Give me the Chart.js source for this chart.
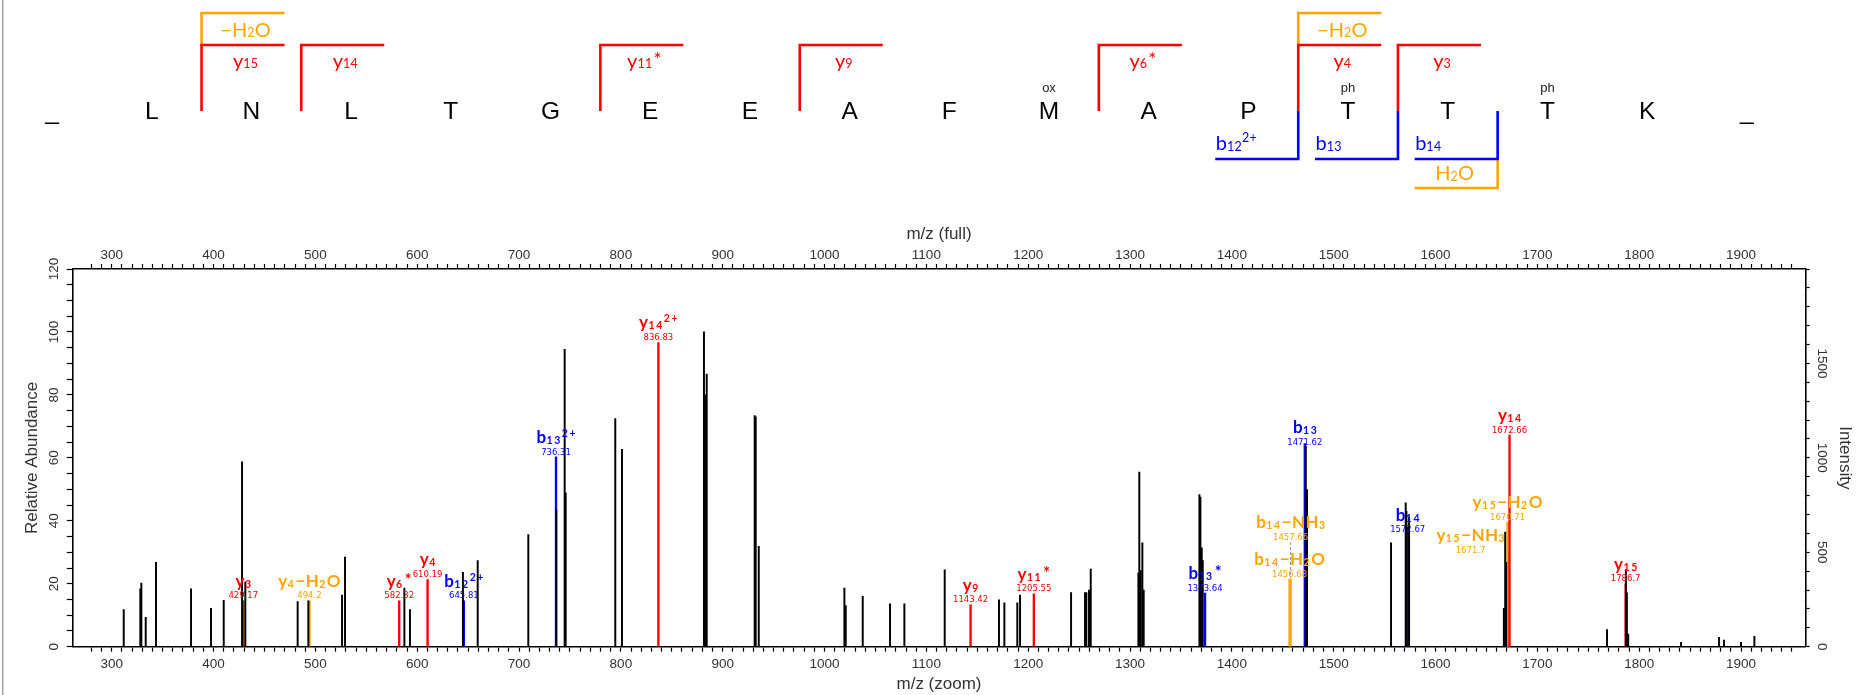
<!DOCTYPE html>
<html>
<head>
<meta charset="utf-8">
<style>
html,body{margin:0;padding:0;background:#fff;}
#wrap{position:relative;width:1856px;height:695px;overflow:hidden;}
canvas{display:block;}
</style>
<script src="https://cdn.jsdelivr.net/npm/chart.js@4/dist/chart.umd.min.js"></script>
</head>
<body>
<div id="wrap"><canvas id="c" width="1856" height="695"></canvas></div>
<script>
// ---------------- data ----------------
const residues = ['L','N','L','T','G','E','E','A','F','M','A','P','T','T','T','K'];
const modPositions = [10, 13, 15];
const modNames = ['ox', 'ph', 'ph'];

const yFragN = [15, 14, 11, 9, 6, 4, 3];
const yFragLabels = ['y_{15}', 'y_{14}', 'y_{11}^{*}', 'y_{9}', 'y_{6}^{*}', 'y_{4}', 'y_{3}'];
const yLossN = [15, 4];
const yLossLabels = ['−H_{2}O', '−H_{2}O'];
const bFragN = [12, 13, 14];
const bFragLabels = ['b_{12}^{2+}', 'b_{13}', 'b_{14}'];
const bLossN = [14];
const bLossLabels = ['H_{2}O'];

// unannotated peaks (m/z, relative abundance %)
const peakMz = [311.8,328.1,329.1,333.4,343.5,377.9,397.5,410.0,428.0,431.2,482.6,493.1,526.2,529.1,
  587.4,592.9,644.9,659.4,709.1,736.6,744.8,745.8,794.5,801.1,
  881.6,882.6,883.5,884.3,931.4,932.4,935.4,1019.5,1020.8,1037.5,1064.3,1078.4,
  1118.0,1171.3,1176.6,1189.3,1192.0,1242.1,1255.8,1257.1,1259.7,1261.4,
  1308.2,1309.1,1310.5,1312.1,1313.4,1368.1,1369.1,1370.4,1371.4,
  1472.6,1473.8,1556.3,1570.7,1571.4,1574.0,1667.1,1668.4,1669.4,
  1768.4,1786.9,1787.9,1789.2,1841.1,1878.4,1883.3,1900.0,1913.1];
const peakRel = [11.8,18.4,20.2,9.3,26.8,18.4,12.2,14.7,58.7,20.5,14.3,14.6,16.4,28.5,
  18.6,11.8,23.6,27.4,35.6,43.5,94.5,48.9,72.5,62.7,
  100,79.7,80,86.6,73.4,73.0,31.9,18.6,13.1,16.0,13.6,13.6,
  24.4,14.9,13.9,13.9,16.4,17.2,17.2,17.2,18.0,24.7,
  23.4,55.5,24.2,33.0,18.0,48.3,47.5,31.4,27.4,
  63.7,49.9,33.0,45.7,43.0,41.2,12.2,36.4,26.8,
  5.4,24.5,17.1,4.0,1.4,3.0,2.1,1.4,3.3];

// annotated fragment ions
const ionNames = ['y_{3}','y_{4}−H_{2}O','y_{6}^{*}','y_{4}','b_{12}^{2+}','b_{13}^{2+}','y_{14}^{2+}','y_{9}','y_{11}^{*}','b_{13}^{*}','b_{14}−H_{2}O','b_{14}−NH_{3}','b_{13}','b_{14}','y_{15}−H_{2}O','y_{15}−NH_{3}','y_{14}','y_{15}'];
const ionMz = [429.17,494.2,582.32,610.19,645.81,736.31,836.83,1143.42,1205.55,1373.64,1456.68,1457.66,1471.62,1572.67,1670.71,1671.7,1672.66,1786.7];
const ionRel = [14.6,14.6,14.6,21.3,14.6,60.3,96.6,13.3,16.8,17.0,21.5,21.5,64.5,38.0,39.6,29.0,67.2,20.0];
const ionMassText = ['429.17','494.2','582.32','610.19','645.81','736.31','836.83','1143.42','1205.55','1373.64','1456.68','1457.66','1471.62','1572.67','1670.71','1671.7','1672.66','1786.7'];
const ionKind = ['y','loss','y','y','b','b','y','y','y','b','loss','loss','b','b','loss','loss','y','y'];

const xMin = 261.3, xMax = 1963.5;
const relMax = 120;
const intensityMax = 2000;
const leftTickLabels = [0, 20, 40, 60, 80, 100, 120];
const rightTickLabels = [0, 500, 1000, 1500];

// ---------------- style ----------------
const COLORS = { y: '#ff0000', b: '#0000ff', loss: '#ffa500' };
const labelNudge = { 11: {dy: -36.6, leader: true}, 12: {dy: 3.4}, 13: {dy: 7.7}, 15: {dx: -38} };
const SANS = '"Liberation Sans", Arial, sans-serif';
const HUM = 'Lato, "Open Sans", sans-serif';

function parseRich(s) {
  const out = []; let i = 0;
  const isMark = k => (s[k] === '_' || s[k] === '^') && s[k + 1] === '{';
  while (i < s.length) {
    if (isMark(i)) {
      const j = s.indexOf('}', i);
      out.push({t: s.slice(i + 2, j), m: s[i] === '_' ? 1 : 2});
      i = j + 1;
    } else {
      let j = i; while (j < s.length && !isMark(j)) j++;
      out.push({t: s.slice(i, j), m: 0}); i = j;
    }
  }
  return out;
}
function drawRich(ctx, text, x, baseline, st, align) {
  const segs = parseRich(text);
  const items = []; let w = 0; let lastSp = 0;
  segs.forEach(seg => {
    const star = seg.m === 2 && seg.t === '*';
    const size = star ? st.size * 0.95 : (seg.m ? st.sub : st.size);
    ctx.font = `${st.weight} ${size}px ${st.family}`;
    const sp = seg.m ? st.subSp : st.sp;
    for (const ch of seg.t) {
      const cw = ctx.measureText(ch).width;
      items.push({ch, size, m: seg.m, star, x: w + (star ? 1 : 0)});
      w += cw + sp + (star ? 1 : 0); lastSp = sp;
    }
  });
  w -= lastSp;
  let x0 = align === 'left' ? x : align === 'right' ? x - w : x - w / 2;
  ctx.textAlign = 'left'; ctx.textBaseline = 'alphabetic'; ctx.fillStyle = st.color;
  items.forEach(it => {
    ctx.font = `${st.weight} ${it.size}px ${st.family}`;
    const by = it.star ? baseline - st.size * 0.06 : it.m === 1 ? baseline + st.subDy : it.m === 2 ? baseline - st.supDy : baseline;
    ctx.fillText(it.ch, x0 + it.x, by);
  });
}

// sequence / fragment map drawn above the plot
const sequencePlugin = {
  id: 'sequenceMap',
  afterDraw(chart) {
    const ctx = chart.ctx;
    const x0 = 52, dx = 99.7;
    const seqX = i => x0 + dx * i;
    ctx.save();
    // page border line
    ctx.strokeStyle = '#a0a0a0'; ctx.lineWidth = 1.5;
    ctx.beginPath(); ctx.moveTo(2.7, 0); ctx.lineTo(2.7, 695); ctx.stroke();
    // letters
    ctx.fillStyle = '#000'; ctx.textAlign = 'center'; ctx.textBaseline = 'alphabetic';
    ctx.font = `24.5px ${SANS}`;
    const letters = ['_'].concat(residues, ['_']);
    letters.forEach((ch, i) => ctx.fillText(ch, seqX(i), 119));
    ctx.font = `13px ${SANS}`; ctx.fillStyle = '#222';
    modPositions.forEach((p, k) => ctx.fillText(modNames[k], seqX(p), 91.5));
    const n = residues.length;
    const L = 83;
    ctx.lineWidth = 2.6; ctx.lineJoin = 'miter'; ctx.lineCap = 'butt';
    const lab = color => ({family: HUM, weight: 'normal', size: 20, sub: 12.5, subDy: 0.5, supDy: 8, sp: 0, subSp: 0.3, color});
    // y ions
    yLossN.forEach((f, k) => {
      const cx = seqX(n - f + 0.5);
      ctx.strokeStyle = COLORS.loss;
      ctx.beginPath(); ctx.moveTo(cx, 46); ctx.lineTo(cx, 13); ctx.lineTo(cx + L, 13); ctx.stroke();
      drawRich(ctx, yLossLabels[k], cx + 44, 36.5, lab(COLORS.loss), 'center');
    });
    yFragN.forEach((f, k) => {
      const cx = seqX(n - f + 0.5);
      ctx.strokeStyle = COLORS.y;
      ctx.beginPath(); ctx.moveTo(cx, 111); ctx.lineTo(cx, 45); ctx.lineTo(cx + L, 45); ctx.stroke();
      drawRich(ctx, yFragLabels[k], cx + 44, 67.5, lab(COLORS.y), 'center');
    });
    // b ions
    bLossN.forEach((f, k) => {
      const cx = seqX(f + 0.5);
      ctx.strokeStyle = COLORS.loss;
      ctx.beginPath(); ctx.moveTo(cx, 158); ctx.lineTo(cx, 188); ctx.lineTo(cx - L, 188); ctx.stroke();
      drawRich(ctx, bLossLabels[k], cx - 43, 180, lab(COLORS.loss), 'center');
    });
    bFragN.forEach((f, k) => {
      const cx = seqX(f + 0.5);
      ctx.strokeStyle = COLORS.b;
      ctx.beginPath(); ctx.moveTo(cx, 111); ctx.lineTo(cx, 159); ctx.lineTo(cx - L, 159); ctx.stroke();
      drawRich(ctx, bFragLabels[k], cx - 82.5, 150, lab(COLORS.b), 'left');
    });
    ctx.restore();
  }
};

// rotated y tick labels + peak annotations
const annotationPlugin = {
  id: 'peakLabels',
  afterDraw(chart) {
    const ctx = chart.ctx;
    const {x, y, y2} = chart.scales;
    const area = chart.chartArea;
    ctx.save();
    ctx.fillStyle = '#333'; ctx.font = `13.5px ${SANS}`;
    ctx.textAlign = 'center'; ctx.textBaseline = 'middle';
    leftTickLabels.forEach(v => {
      ctx.save(); ctx.translate(area.left - 18.5, y.getPixelForValue(v)); ctx.rotate(-Math.PI / 2);
      ctx.fillText(String(v), 0, 0); ctx.restore();
    });
    rightTickLabels.forEach(v => {
      ctx.save(); ctx.translate(area.right + 16.5, y2.getPixelForValue(v)); ctx.rotate(Math.PI / 2);
      ctx.fillText(String(v), 0, 0); ctx.restore();
    });
    ionMz.forEach((mz, i) => {
      const nd = labelNudge[i] || {};
      const px = x.getPixelForValue(mz) + (nd.dx || 0);
      const top = y.getPixelForValue(ionRel[i]);
      const color = COLORS[ionKind[i]];
      const massBase = top - 2.4 + (nd.dy || 0);
      const labBase = massBase - 11.8;
      drawRich(ctx, ionNames[i], px, labBase,
        {family: HUM, weight: 'bold', size: 17, sub: 10.5, subDy: 1, supDy: 6, sp: 0.4, subSp: 1.6, color}, 'center');
      ctx.font = `8.5px "DejaVu Sans", Verdana, sans-serif`;
      ctx.fillStyle = color; ctx.textAlign = 'center'; ctx.textBaseline = 'alphabetic';
      ctx.fillText(ionMassText[i], px, massBase);
      if (nd.leader) {
        ctx.save();
        ctx.strokeStyle = '#909090'; ctx.lineWidth = 1; ctx.setLineDash([3, 2]);
        ctx.beginPath(); ctx.moveTo(x.getPixelForValue(mz), massBase + 2); ctx.lineTo(x.getPixelForValue(mz), top - 1); ctx.stroke();
        ctx.restore();
      }
    });
    ctx.restore();
  }
};

const tickFont = {family: SANS, size: 13.5};
const titleFont = {family: SANS, size: 17};
const gridOpts = len => ({drawOnChartArea: false, drawTicks: true, tickLength: len, tickColor: '#000', tickWidth: 1.2, color: '#000'});
const borderOpts = {display: true, color: '#000', width: 1.6};
const keepMultiples = step => s => { s.ticks = s.ticks.filter(t => Math.abs(t.value - Math.round(t.value / step) * step) < 1e-6); };

const datasets = [{
  label: 'peaks',
  data: peakMz.map((m, i) => ({x: m, y: peakRel[i]})),
  backgroundColor: '#000', barThickness: 1.3, order: 0
}].concat(['y', 'loss', 'b'].map(kind => ({
  label: kind,
  data: ionMz.map((m, i) => ({x: m, y: ionRel[i], k: ionKind[i]})).filter(d => d.k === kind),
  backgroundColor: COLORS[kind], barThickness: 1.7, order: 1
})));

new Chart(document.getElementById('c'), {
  type: 'bar',
  data: {datasets},
  options: {
    responsive: false, animation: false, devicePixelRatio: 1,
    layout: {padding: {top: 222, left: 0, right: 0, bottom: 0}},
    datasets: {bar: {grouped: false, borderWidth: 0}},
    plugins: {legend: {display: false}, tooltip: {enabled: false}},
    scales: {
      x: {
        type: 'linear', position: 'bottom', min: xMin, max: xMax, offset: false,
        grid: Object.assign(gridOpts(5), {offset: false}), border: borderOpts,
        ticks: {stepSize: 10, autoSkip: false, maxRotation: 0, minRotation: 0, padding: 4, font: tickFont, color: '#333',
          callback: v => (Math.abs(v % 100) < 1e-6 ? String(Math.round(v)) : '')},
        title: {display: true, text: 'm/z (zoom)', font: titleFont, color: '#333', padding: {top: 0, bottom: 0.8}},
        afterBuildTicks: keepMultiples(10),
        afterFit: s => { s.height = 48.3; }
      },
      x2: {
        type: 'linear', axis: 'x', position: 'top', min: xMin, max: xMax, offset: false,
        grid: Object.assign(gridOpts(5), {offset: false}), border: borderOpts,
        ticks: {stepSize: 10, autoSkip: false, maxRotation: 0, minRotation: 0, padding: 1, font: tickFont, color: '#333',
          callback: v => (Math.abs(v % 100) < 1e-6 ? String(Math.round(v)) : '')},
        title: {display: true, text: 'm/z (full)', font: titleFont, color: '#333', padding: {top: 1.8, bottom: 0}},
        afterBuildTicks: keepMultiples(10),
        afterFit: s => { s.height = 47; }
      },
      y: {
        type: 'linear', position: 'left', min: 0, max: relMax,
        grid: gridOpts(5.5), border: borderOpts,
        ticks: {stepSize: 5, autoSkip: false, padding: 0, font: tickFont, callback: () => ''},
        title: {display: true, text: 'Relative Abundance', font: titleFont, color: '#333', padding: {top: 22.3, bottom: 0}},
        afterBuildTicks: keepMultiples(5),
        afterFit: s => { s.width = 72.3; }
      },
      y2: {
        type: 'linear', position: 'right', min: 0, max: intensityMax,
        grid: gridOpts(4), border: borderOpts,
        ticks: {stepSize: 100, autoSkip: false, padding: 0, font: tickFont, callback: () => ''},
        title: {display: true, text: 'Intensity', font: titleFont, color: '#333', padding: {top: 0.8, bottom: 0}},
        afterBuildTicks: keepMultiples(100),
        afterFit: s => { s.width = 50.3; }
      }
    }
  },
  plugins: [sequencePlugin, annotationPlugin]
});
</script>
</body>
</html>
